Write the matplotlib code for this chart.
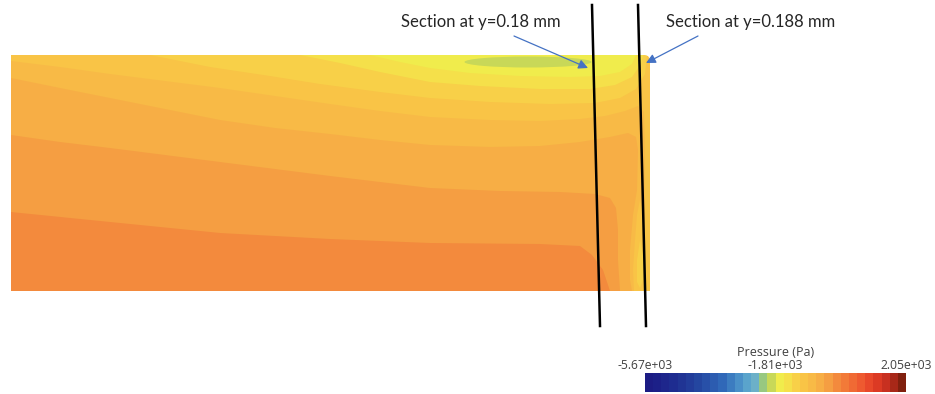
import numpy as np
import matplotlib
matplotlib.use("Agg")
import matplotlib.pyplot as plt
from matplotlib.colors import ListedColormap, BoundaryNorm
from matplotlib.patches import Polygon, Ellipse
from matplotlib.cm import ScalarMappable
from matplotlib.ticker import NullLocator

# colour bands of the pressure scale (32 bands, low -> high)
band_colors = ['#1c1c84', '#1c2088', '#1e268c', '#1e2c90', '#203494', '#223c9a',
               '#2446a0', '#2850a8', '#2c5cb0', '#3068b8', '#3c7cc0', '#4a90c8',
               '#5aa4cc', '#6cb0c8', '#98c880', '#c8d858', '#f0ec4c', '#f5e04a',
               '#f8d048', '#f9c446', '#f8ba46', '#f7ae45', '#f59e42', '#f38a3d',
               '#f27a38', '#f06a34', '#ee5a30', '#e8482a', '#dc3a24', '#c83020',
               '#a82818', '#80200e']
p_min, p_max = -5670, 2050
tick_vals = [-5670, -1810, 2050]
tick_labels = ['-5.67e+03', '-1.81e+03', '2.05e+03']

# domain outline (image pixels)
dom_x = [11, 644, 648, 650, 650, 11]
dom_y = [55, 55, 56, 59, 291, 291]

# contour boundaries (image pixels)
# low-pressure (lighter) bands near the top wall
c16_x = [370, 400, 430, 470, 520, 570, 600, 620, 632, 636]
c16_y = [55, 62, 68, 73, 76, 77, 76, 72, 64, 55]
c17_x = [300, 340, 380, 430, 480, 540, 590, 615, 632, 641, 643]
c17_y = [55, 63, 72, 82, 86, 89, 89, 85, 77, 64, 55]
c18_x = [150, 210, 270, 320, 380, 430, 490, 550, 595, 620, 636, 645, 647]
c18_y = [55, 67, 76, 84, 92, 98, 102, 104, 103, 98, 89, 74, 55]

# higher-pressure (darker) bands towards the bottom-left
c20_x = [11, 60, 110, 165, 220, 275, 330, 380, 430, 490, 540, 580, 605, 625, 638, 644, 645, 645]
c20_y = [61, 67, 74, 81, 88, 96, 104, 111, 117, 120, 121, 119, 116, 111, 106, 112, 140, 291]
c21_x = [11, 60, 110, 165, 220, 275, 330, 380, 430, 490, 540, 580, 610, 628, 636, 638, 637, 633, 630, 630, 632]
c21_y = [78, 88, 98, 109, 120, 128, 134, 140, 145, 147, 146, 142, 137, 133, 137, 150, 190, 215, 250, 280, 291]
c22_x = [11, 60, 110, 165, 220, 275, 330, 380, 430, 500, 560, 595, 610, 616, 618, 618, 620]
c22_y = [135, 142, 148, 155, 162, 169, 176, 182, 188, 191, 192, 194, 198, 208, 230, 260, 291]
c23_x = [11, 110, 220, 330, 430, 540, 580, 592, 603, 610]
c23_y = [212, 222, 233, 239, 243, 244, 246, 255, 270, 291]

# lighter pocket along the right wall
lens19_x = [640, 644, 646, 647, 644, 634, 633, 635, 637]
lens19_y = [200, 215, 250, 285, 291, 291, 270, 240, 215]
lens18_x = [640, 643, 643, 640, 637, 637]
lens18_y = [240, 255, 280, 288, 282, 260]

# low-pressure core under the top wall
core_center = (528, 62)
core_size = (127, 11)

# section lines
sec1_x, sec1_y = [592, 600], [5, 326]
sec2_x, sec2_y = [638, 646], [5, 326]

levels = np.linspace(p_min, p_max, len(band_colors) + 1)
cmap = ListedColormap(band_colors)
norm = BoundaryNorm(levels, cmap.N)

fig = plt.figure(figsize=(9.35, 3.94), dpi=100)
ax = fig.add_axes([0, 0, 1, 1])
ax.set_xlim(0, 935)
ax.set_ylim(394, 0)
ax.axis('off')

domain = Polygon(np.column_stack([dom_x, dom_y]), closed=True,
                 facecolor=band_colors[19], edgecolor='none')
ax.add_patch(domain)


def band(xs, ys, idx, extra=None):
    pts = list(zip(xs, ys))
    if extra:
        pts += extra
    p = Polygon(pts, closed=True, facecolor=band_colors[idx], edgecolor='none')
    ax.add_patch(p)
    p.set_clip_path(domain)


band(c18_x, c18_y, 18)
band(c17_x, c17_y, 17)
band(c16_x, c16_y, 16)
core = Ellipse(core_center, core_size[0], core_size[1], facecolor=band_colors[15], edgecolor='none')
ax.add_patch(core)
core.set_clip_path(domain)

band(c20_x, c20_y, 20, [(11, 291)])
band(c21_x, c21_y, 21, [(11, 291)])
band(c22_x, c22_y, 22, [(11, 291)])
band(c23_x, c23_y, 23, [(11, 291)])
band(lens19_x, lens19_y, 19)
band(lens18_x, lens18_y, 18)

ax.plot(sec1_x, sec1_y, color='black', lw=1.8)
ax.plot(sec2_x, sec2_y, color='black', lw=1.8)

arrow = dict(arrowstyle='-|>', color='#4472c4', lw=0.9, mutation_scale=14, shrinkA=0, shrinkB=0)
ax.annotate('', xy=(588, 68), xytext=(514, 36), arrowprops=arrow)
ax.annotate('', xy=(646, 63), xytext=(698, 36), arrowprops=arrow)
ax.text(401, 22, 'Section at y=0.18 mm', fontsize=12, family='Lato', color='#262626', va='center', ha='left')
ax.text(666, 22, 'Section at y=0.188 mm', fontsize=12, family='Lato', color='#262626', va='center', ha='left')

# colour bar
cax = fig.add_axes([645 / 935, 2 / 394, 261 / 935, 19 / 394])
cb = fig.colorbar(ScalarMappable(norm=norm, cmap=cmap), cax=cax, orientation='horizontal')
cb.outline.set_visible(False)
cax.xaxis.set_ticks_position('top')
cax.set_xticks(tick_vals)
cax.set_xticklabels(tick_labels, fontsize=8.7, color='#404040', family='Open Sans')
cax.xaxis.set_minor_locator(NullLocator())
cax.tick_params(which='both', length=0, pad=0.5)
cax.text(0.5, 2.1, 'Pressure (Pa)', fontsize=9, color='#404040', family='Open Sans',
         ha='center', va='center', transform=cax.transAxes)

fig.savefig('out.png', dpi=100)
